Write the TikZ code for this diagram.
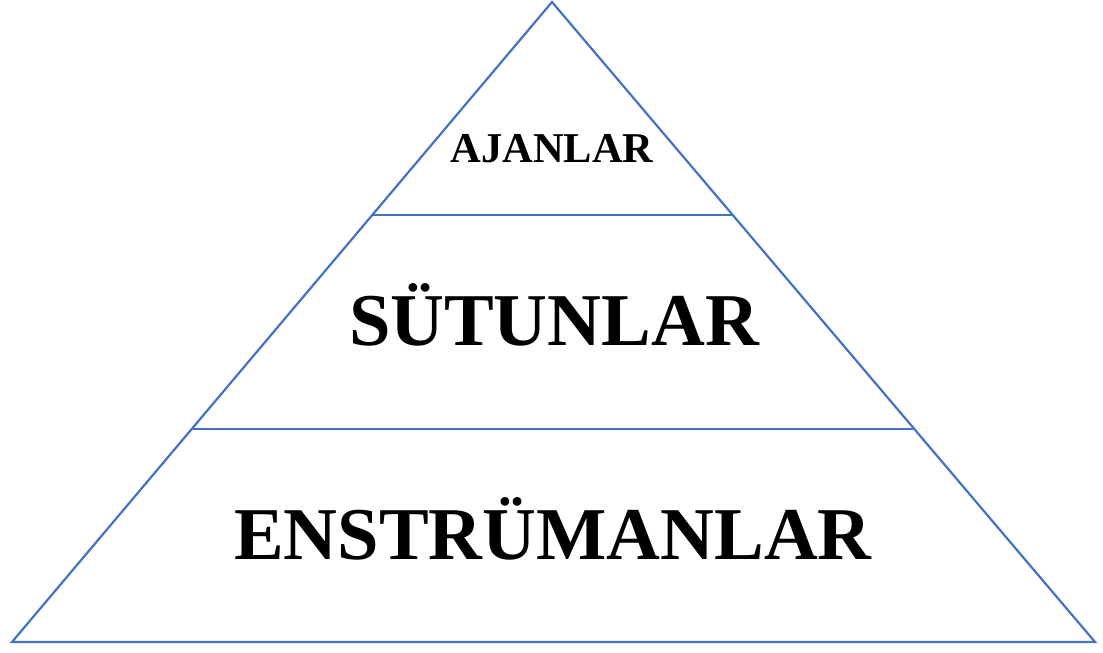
\documentclass[tikz,border=0pt]{standalone}
\usepackage{fontspec}
\setmainfont{Liberation Serif}
\definecolor{edgeblue}{HTML}{4472C4}
\tikzset{
  edge/.style={draw=edgeblue, line width=2.2pt, line join=miter},
  label/.style={inner sep=0pt, anchor=base, font=\bfseries},
}
\begin{document}
\begin{tikzpicture}[x=1pt,y=-1pt]
\useasboundingbox (0,0) rectangle (1103,653);
\coordinate (apex) at (552,2);
\coordinate (bl) at (12,642);
\coordinate (br) at (1095,642);
\coordinate (l1) at (372.3,215);
\coordinate (r1) at (732.7,215);
\coordinate (l2) at (191.7,429);
\coordinate (r2) at (913.1,429);
\draw[edge] (apex) -- (br) -- (bl) -- cycle;
\draw[edge] (l1) -- (r1);
\draw[edge] (l2) -- (r2);
\node[label, font=\bfseries\fontsize{42.5}{46}\selectfont] (ajan) at (552,162) {AJANLAR};
\node[label, font=\bfseries\fontsize{74.5}{80}\selectfont] (sut) at (554,345) {SÜTUNLAR};
\node[label, font=\bfseries\fontsize{74.5}{80}\selectfont] (enst) at (553,559) {ENSTRÜMANLAR};
\end{tikzpicture}
\end{document}
